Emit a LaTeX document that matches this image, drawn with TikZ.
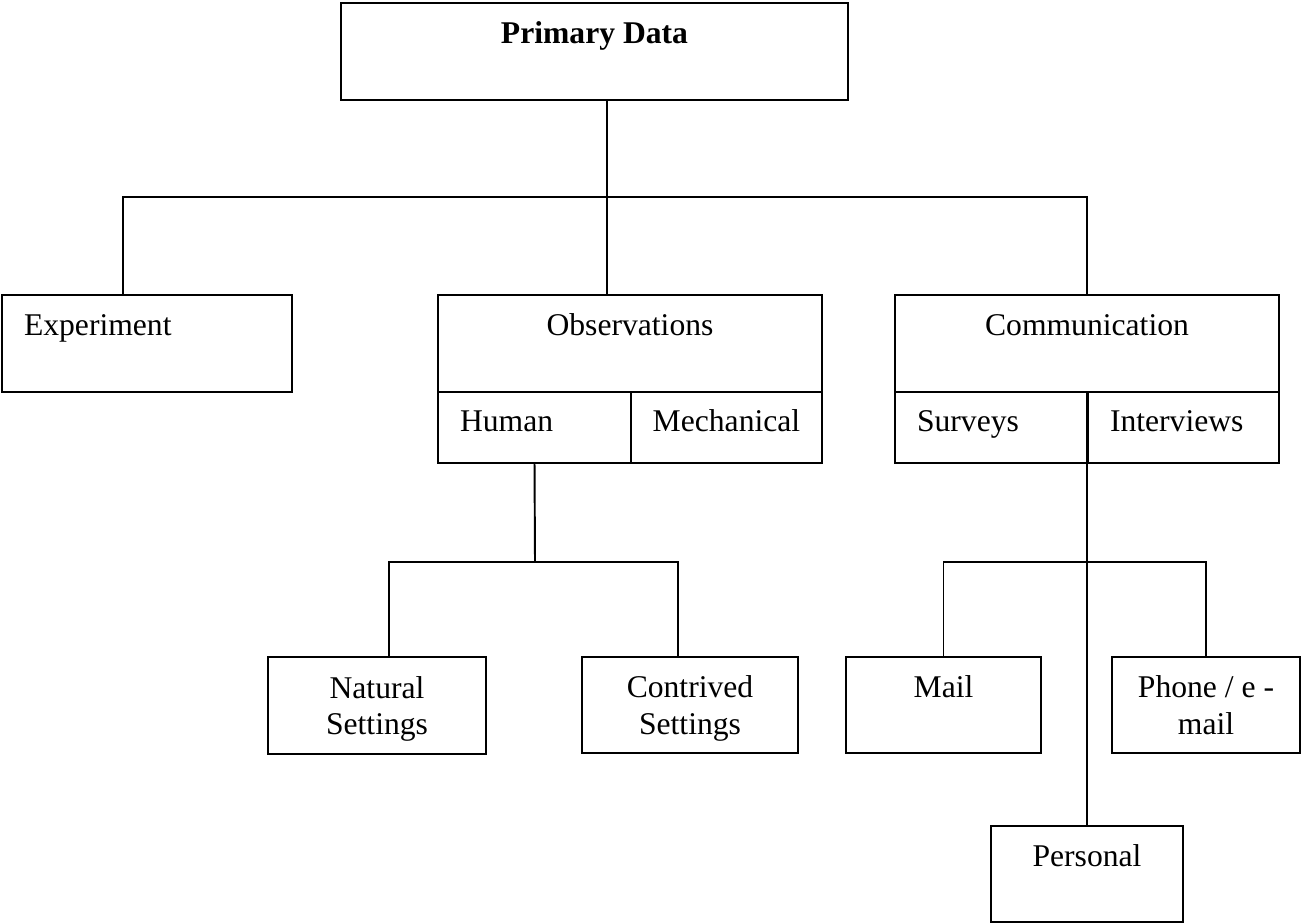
\documentclass[tikz,border=0pt]{standalone}
\usepackage{fontspec}
\setmainfont{Liberation Serif}
\usetikzlibrary{positioning, calc}

\begin{document}
\begin{tikzpicture}[
    x=0.02cm, y=-0.02cm,
    box/.style={rectangle, draw, line width=1.1pt, inner sep=0pt, outer sep=0pt, align=center, font=\fontsize{18}{21}\selectfont},
    cell/.style={text height=0.8cm, text depth=#1},
    cell/.default=1.14cm,
    leftbox/.style={box, align=left, inner xsep=0.44cm},
    link/.style={line width=1.1pt}
]
\useasboundingbox (0,0) rectangle (1303,923);

% Main components
\node[box, cell, minimum width=10.14cm, minimum height=1.94cm, font=\fontsize{18}{21}\selectfont\bfseries] (pd) at (594.5,51.5) {Primary Data};

\node[leftbox, cell, text width=4.92cm] (exp) at (147,343.5) {Experiment};
\node[box, cell, minimum width=7.68cm, minimum height=1.94cm] (obs) at (630,343.5) {Observations};
\node[box, cell, minimum width=7.68cm, minimum height=1.94cm] (comm) at (1087,343.5) {Communication};

% Split rows
\node[leftbox, cell=0.62cm, text width=2.98cm, below right=0pt and 0pt of obs.south west] (human) {Human};
\node[box, cell=0.62cm, minimum width=3.82cm, below left=0pt and 0pt of obs.south east] (mech) {Mechanical};
\node[leftbox, cell=0.62cm, text width=2.98cm, below right=0pt and 0pt of comm.south west] (surv) {Surveys};
\node[leftbox, cell=0.62cm, text width=2.94cm, below left=0pt and 0pt of comm.south east] (intv) {Interviews};

% Lower level
\node[box, minimum width=4.36cm, minimum height=1.94cm] (nat) at (377,705.5) {Natural\\\smash{Settings}};
\node[box, minimum width=4.32cm, minimum height=1.92cm] (con) at (690,705) {Contrived\\\smash{Settings}};
\node[box, cell=1.12cm, minimum width=3.9cm, minimum height=1.92cm] (mail) at (943.5,705) {Mail};
\node[box, minimum width=3.76cm, minimum height=1.92cm] (phone) at (1206,705) {Phone / e -\\mail};
\node[box, cell=1.12cm, minimum width=3.84cm, minimum height=1.92cm] (pers) at (1087,874) {Personal};

% Branch points
\coordinate (top) at (607,197);
\coordinate (obsfork) at (535,562);
\coordinate (comfork) at (1088,562);

% Connectors
\draw[link] (pd.south -| top) -- (obs.north -| top);
\draw[link] ($(exp.north)+(-24,0)$) |- (top) -| (comm.north);
\draw[link] (human.south) -- (obsfork);
\draw[link] ($(nat.north)+(12,0)$) |- (obsfork) -| ($(con.north)+(-12,0)$);
\draw[link] (comm.south) -- (pers.north);
\draw[link] (mail.north) |- (comfork) -| (phone.north);

\end{tikzpicture}
\end{document}
